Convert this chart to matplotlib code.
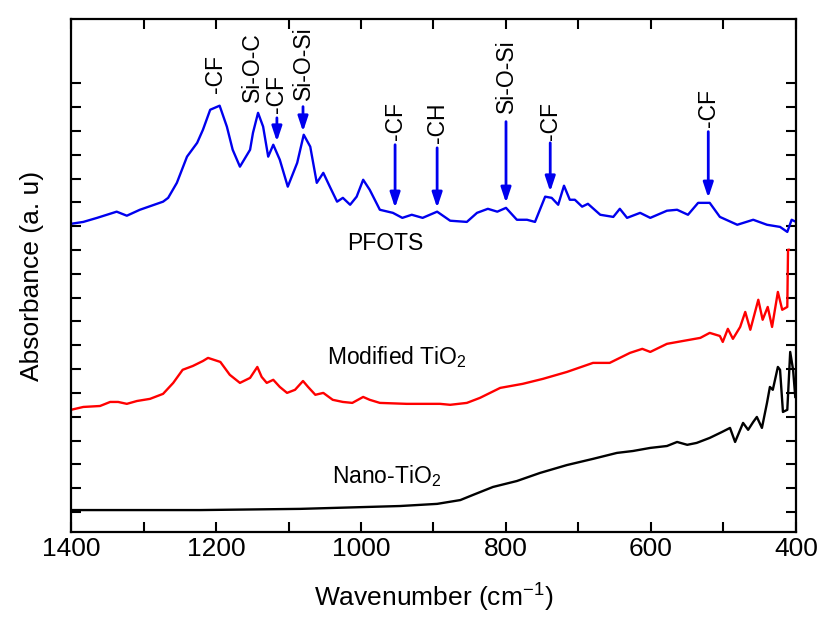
import matplotlib
matplotlib.use("Agg")
import matplotlib.pyplot as plt

plt.rcParams['font.family'] = ['Liberation Sans', 'DejaVu Sans']
plt.rcParams['mathtext.fontset'] = 'custom'
plt.rcParams['mathtext.rm'] = 'Liberation Sans'

# PFOTS spectrum (blue)
pfots_wn = [1400, 1383, 1364, 1337, 1323, 1305, 1273, 1266, 1254, 1240, 1226, 1218, 1208, 1195,
            1185, 1177, 1167, 1153, 1149, 1142, 1135, 1128, 1121, 1112, 1101, 1088, 1079, 1070,
            1061, 1052, 1043, 1033, 1025, 1015, 1006, 997, 988, 974, 956, 943, 930, 915, 895,
            877, 854, 840, 825, 812, 800, 785, 771, 760, 746, 737, 728, 720, 712, 705, 695, 687,
            670, 652, 643, 633, 615, 601, 578, 564, 549, 535, 519, 505, 481, 459, 440, 422, 412,
            406, 400]
pfots_abs = [12.10, 12.18, 12.35, 12.61, 12.44, 12.69, 13.03, 13.19, 13.82, 14.92, 15.50, 16.05,
             16.89, 17.06, 16.18, 15.21, 14.50, 15.21, 15.92, 16.76, 16.18, 14.92, 15.42, 14.79,
             13.66, 14.66, 15.84, 15.34, 13.82, 14.24, 13.66, 13.03, 13.19, 12.90, 13.24, 13.95,
             13.53, 12.69, 12.56, 12.35, 12.48, 12.35, 12.61, 12.23, 12.18, 12.56, 12.73, 12.61,
             12.77, 12.27, 12.27, 12.18, 13.24, 13.19, 12.90, 13.70, 13.11, 13.11, 12.82, 12.94,
             12.48, 12.39, 12.73, 12.35, 12.56, 12.35, 12.65, 12.69, 12.48, 12.98, 12.98, 12.39,
             12.06, 12.27, 12.06, 11.97, 11.76, 12.27, 12.18]

# Modified TiO2 spectrum (red)
mod_wn = [1400, 1383, 1360, 1346, 1335, 1323, 1309, 1291, 1273, 1259, 1246, 1232, 1218, 1211,
          1194, 1181, 1167, 1153, 1143, 1137, 1130, 1121, 1112, 1102, 1091, 1080, 1073, 1063,
          1052, 1039, 1025, 1012, 997, 988, 974, 937, 891, 877, 854, 836, 808, 777, 749, 716,
          680, 657, 629, 612, 601, 578, 556, 532, 519, 505, 501, 494, 487, 477, 470, 463, 452,
          446, 439, 433, 425, 419, 412, 411, 410]
mod_abs = [4.29, 4.41, 4.45, 4.62, 4.62, 4.54, 4.66, 4.75, 4.96, 5.42, 5.97, 6.13, 6.34, 6.47,
           6.30, 5.76, 5.42, 5.63, 6.09, 5.67, 5.42, 5.55, 5.25, 5.00, 5.13, 5.50, 5.25, 4.92,
           5.00, 4.71, 4.62, 4.58, 4.83, 4.71, 4.58, 4.54, 4.54, 4.50, 4.58, 4.79, 5.21, 5.38,
           5.59, 5.88, 6.26, 6.26, 6.68, 6.85, 6.72, 7.06, 7.18, 7.31, 7.52, 7.39, 7.14, 7.69,
           7.27, 7.77, 8.40, 7.65, 8.91, 8.07, 8.61, 7.77, 9.24, 8.49, 8.61, 11.01, 11.01]

# Nano-TiO2 spectrum (black)
nano_wn = [1400, 1222, 1084, 946, 895, 863, 846, 818, 785, 753, 716, 680, 647, 625, 601, 578,
           564, 550, 537, 519, 502, 491, 484, 473, 466, 459, 454, 447, 440, 436, 432, 425, 422,
           418, 412, 408, 404, 401]
nano_abs = [0.08, 0.08, 0.13, 0.25, 0.34, 0.50, 0.71, 1.05, 1.30, 1.64, 1.97, 2.23, 2.48, 2.56,
            2.69, 2.77, 2.94, 2.82, 2.90, 3.11, 3.36, 3.53, 2.94, 3.74, 3.45, 3.78, 3.99, 3.53,
            4.58, 5.25, 5.13, 6.09, 5.97, 4.20, 4.29, 6.72, 5.97, 4.83]

# peak assignments: label, wavenumber, text start, arrow tail/tip (None = no arrow)
peak_labels = ['-CF', 'Si-O-C', '-CF', 'Si-O-Si', '-CF', '-CH', 'Si-O-Si', '-CF', '-CF']
peak_wn = [1201, 1150, 1116, 1080, 953, 895, 800, 739, 521]
peak_text_y = [17.61, 17.23, 16.76, 17.31, 15.63, 15.50, 16.76, 15.63, 16.18]
peak_tail_y = [None, None, 16.55, 17.02, 15.42, 15.29, 16.39, 15.50, 15.97]
peak_tip_y = [None, None, 15.55, 15.97, 12.77, 12.77, 12.98, 13.45, 13.19]

fig = plt.figure(figsize=(8.18, 6.17), dpi=100)
ax = fig.add_axes([0.0868, 0.1378, 0.8863, 0.8314])

ax.plot(pfots_wn, pfots_abs, color='#0000ee', lw=1.7)
ax.plot(mod_wn, mod_abs, color='#ff0000', lw=1.7)
ax.plot(nano_wn, nano_abs, color='black', lw=1.7)

for lab, wn, ty, tail, tip in zip(peak_labels, peak_wn, peak_text_y, peak_tail_y, peak_tip_y):
    ax.text(wn, ty, lab, rotation=90, ha='center', va='bottom', fontsize=16.5)
    if tip is not None:
        ax.annotate('', xy=(wn, tip), xytext=(wn, tail),
                    arrowprops=dict(arrowstyle='-|>,head_length=0.9,head_width=0.3',
                                    color='#0000ee', lw=2, shrinkA=0, shrinkB=0))

ax.text(966, 11.26, 'PFOTS', ha='center', va='center', fontsize=16.5)
ax.text(951, 6.5, 'Modified TiO$_2$', ha='center', va='center', fontsize=16.5)
ax.text(964, 1.5, 'Nano-TiO$_2$', ha='center', va='center', fontsize=16.5)

ax.set_xlim(1400, 400)
ax.set_ylim(-0.84, 20.7)
ax.set_xticks([1400, 1200, 1000, 800, 600, 400])
ax.set_xticks([1300, 1100, 900, 700, 500], minor=True)
ax.set_yticks(range(0, 19))
ax.set_yticklabels([])
ax.tick_params(axis='both', which='both', direction='in', top=True, right=True,
               length=7, width=1.5, labelsize=19)
for s in ax.spines.values():
    s.set_linewidth(1.6)

ax.set_xlabel('Wavenumber (cm$^{-1}$)', fontsize=19, labelpad=14)
ax.set_ylabel('Absorbance (a. u)', fontsize=19, labelpad=16)

fig.savefig('out.png', dpi=100)
